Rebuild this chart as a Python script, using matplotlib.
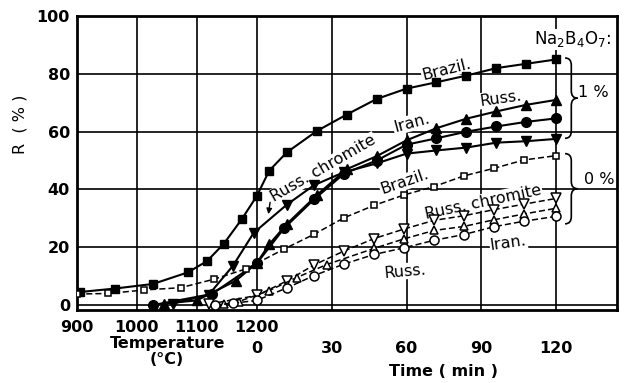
import numpy as np
import matplotlib.pyplot as plt
from matplotlib.path import Path
from matplotlib.patches import PathPatch

# Heating part: temperature (C) -> R (%), holding part: time (min) -> R (%)
# Na2B4O7 1 %
brazil1_temp = [905, 963, 1027, 1085, 1117, 1145, 1175]
brazil1_temp_r = [4.5, 5.7, 7.3, 11.3, 15.2, 21.2, 29.7]
brazil1_time = [0, 5, 12, 24, 36, 48, 60, 72, 84, 96, 108, 120]
brazil1_time_r = [37.7, 46.5, 52.8, 60.2, 65.9, 71.3, 74.9, 77.1, 79.4, 82.0, 83.5, 85.0]

russ1_temp = [1045, 1100, 1165]
russ1_temp_r = [0.5, 1.6, 8.4]
russ1_time = [0, 5, 12, 24, 36, 48, 60, 72, 84, 96, 108, 120]
russ1_time_r = [14.5, 21.0, 28.0, 38.0, 47.0, 51.5, 57.0, 61.2, 64.5, 67.0, 69.3, 71.0]

iran1_temp = [1027, 1125]
iran1_temp_r = [0.0, 3.8]
iran1_time = [0, 11, 23, 35, 48, 60, 72, 84, 96, 108, 120]
iran1_time_r = [14.4, 26.6, 36.6, 45.5, 50.0, 55.5, 57.7, 60.0, 61.8, 63.4, 64.6]

chrom1_temp = [1060, 1120, 1160, 1195]
chrom1_temp_r = [0.5, 3.6, 13.5, 25.0]
chrom1_time = [12, 23, 35, 48, 60, 72, 84, 96, 108, 120]
chrom1_time_r = [34.7, 41.5, 46.0, 49.0, 52.4, 53.5, 54.5, 56.2, 56.7, 57.5]

# Na2B4O7 0 %
brazil0_temp = [900, 952, 1012, 1073, 1128, 1182]
brazil0_temp_r = [3.8, 4.0, 5.2, 6.0, 8.9, 12.5]
brazil0_time = [11, 23, 35, 47, 59, 71, 83, 95, 107, 120]
brazil0_time_r = [19.4, 24.5, 30.2, 34.5, 38.1, 41.0, 44.7, 47.3, 50.2, 51.7]

chrom0_temp = [1120]
chrom0_temp_r = [0.3]
chrom0_time = [0, 12, 23, 35, 47, 59, 71, 83, 95, 107, 120]
chrom0_time_r = [3.3, 8.3, 13.9, 18.7, 23.0, 26.3, 29.3, 30.9, 33.0, 34.9, 36.9]

iran0_temp = [1130, 1160]
iran0_temp_r = [0.0, 0.6]
iran0_time = [0, 12, 23, 35, 47, 59, 71, 83, 95, 107, 120]
iran0_time_r = [1.6, 5.9, 10.2, 14.2, 17.5, 19.8, 22.4, 24.4, 27.1, 29.0, 30.7]

russ0_temp = [1145, 1170]
russ0_temp_r = [0.3, 1.2]
russ0_time = [5, 16, 28, 47, 59, 71, 83, 95, 107, 120]
russ0_time_r = [5.0, 9.5, 14.0, 19.6, 22.9, 25.8, 27.2, 29.5, 31.5, 33.5]

temp_ticks = [900, 1000, 1100, 1200]
time_ticks = [0, 30, 60, 90, 120]


def temp_x(T):
    # 100 C on the temperature part is as wide as 24 min on the time part
    return (np.asarray(T, dtype=float) - 1200) * 0.24


def series(temp, temp_r, time, time_r):
    return np.concatenate([temp_x(temp), time]), np.concatenate([temp_r, time_r])


def brace(ax, x, y0, y1, w, d):
    ym = (y0 + y1) / 2
    xm = x + w / 2
    verts = [(x, y1), (xm, y1), (xm, y1 - d), (xm, ym + d), (xm, ym), (x + w, ym),
             (xm, ym), (xm, ym - d), (xm, y0 + d), (xm, y0), (x, y0)]
    codes = [Path.MOVETO, Path.CURVE3, Path.CURVE3, Path.LINETO, Path.CURVE3, Path.CURVE3,
             Path.CURVE3, Path.CURVE3, Path.LINETO, Path.CURVE3, Path.CURVE3]
    ax.add_patch(PathPatch(Path(verts, codes), fill=False, lw=1.2, color="black",
                           clip_on=False))


fig = plt.figure(figsize=(6.26, 3.83), dpi=100)
ax = fig.add_axes([0.123, 0.19, 0.863, 0.768])

solid = dict(color="black", lw=1.5, zorder=3)
dashed = dict(color="black", lw=1.1, ls=(0, (4, 2)), zorder=3)
hollow = dict(mfc="white", mec="black", mew=1.1)

ax.plot(*series(brazil1_temp, brazil1_temp_r, brazil1_time, brazil1_time_r), marker="s", ms=6, **solid)
ax.plot(*series(russ1_temp, russ1_temp_r, russ1_time, russ1_time_r), marker="^", ms=7, **solid)
ax.plot(*series(iran1_temp, iran1_temp_r, iran1_time, iran1_time_r), marker="o", ms=7, **solid)
ax.plot(*series(chrom1_temp, chrom1_temp_r, chrom1_time, chrom1_time_r), marker="v", ms=7, **solid)

ax.plot(*series(brazil0_temp, brazil0_temp_r, brazil0_time, brazil0_time_r), marker="s", ms=5, **hollow, **dashed)
ax.plot(*series(chrom0_temp, chrom0_temp_r, chrom0_time, chrom0_time_r), marker="v", ms=7, **hollow, **dashed)
ax.plot(*series(russ0_temp, russ0_temp_r, russ0_time, russ0_time_r), marker="^", ms=6, **hollow, **dashed)
ax.plot(*series(iran0_temp, iran0_temp_r, iran0_time, iran0_time_r), marker="o", ms=6.5, **hollow, **dashed)

ax.set_xlim(temp_x(900), 144.4)
ax.set_ylim(-1.8, 100)

grid_x = list(temp_x(temp_ticks)) + time_ticks[1:]
ax.set_xticks(grid_x)
ax.set_xticklabels([str(t) for t in temp_ticks] + [""] * (len(time_ticks) - 1))
ax.set_yticks([0, 20, 40, 60, 80, 100])
ax.grid(True, color="black", lw=1.2)
ax.set_axisbelow(True)
ax.tick_params(length=0, labelsize=11.5)
ax.tick_params(axis="x", pad=7)
ax.tick_params(axis="y", pad=5)
for lab in ax.get_xticklabels() + ax.get_yticklabels():
    lab.set_fontweight("bold")
for s in ax.spines.values():
    s.set_linewidth(2)

sec = ax.secondary_xaxis("bottom")
sec.set_xticks(time_ticks)
sec.set_xticklabels([str(t) for t in time_ticks])
sec.tick_params(length=0, labelsize=11.5, pad=22)
sec.spines["bottom"].set_visible(False)
for lab in sec.get_xticklabels():
    lab.set_fontweight("bold")

fig.text(0.267, 0.082, "Temperature\n(°C)", ha="center", va="center", fontsize=11.5,
         fontweight="bold", linespacing=1.05)
fig.text(0.709, 0.031, "Time ( min )", ha="center", va="center", fontsize=11.5, fontweight="bold")
fig.text(0.032, 0.675, "R  ( % )", ha="center", va="center", rotation=90, fontsize=11.5)

box = dict(facecolor="white", edgecolor="none", pad=0.5)
labels = [
    ("Brazil.", 76.0, 81.5, 14),
    ("Russ.", 97.6, 71.5, 8),
    ("Iran.", 62.0, 63.0, 15),
    ("Russ. chromite", 26.8, 47.4, 30),
    ("Brazil.", 59.2, 42.6, 19),
    ("Russ. chromite", 90.8, 35.7, 12),
    ("Iran.", 100.8, 21.6, 8),
    ("Russ.", 59.2, 11.7, 5),
]
for txt, x, y, rot in labels:
    ax.text(x, y, txt, ha="center", va="center", rotation=rot, fontsize=11.5,
            rotation_mode="anchor", bbox=box, zorder=1)

ax.annotate("", xy=(4.5, 30.5), xytext=(5.5, 36.5),
            arrowprops=dict(arrowstyle="-|>", color="black", lw=1, mutation_scale=8))

ax.text(126.4, 92.0, r"Na$_2$B$_4$O$_7$:", ha="center", va="center", fontsize=12,
        bbox=box, zorder=1)
brace(ax, 123.5, 57.7, 85.5, 5.0, 2.5)
brace(ax, 123.5, 28.1, 52.4, 5.0, 2.5)
ax.text(135.0, 73.4, "1 %", ha="center", va="center", fontsize=11.5, bbox=box, zorder=1)
ax.text(137.0, 43.3, "0 %", ha="center", va="center", fontsize=11.5, bbox=box, zorder=1)

fig.savefig("out.png", dpi=100)
